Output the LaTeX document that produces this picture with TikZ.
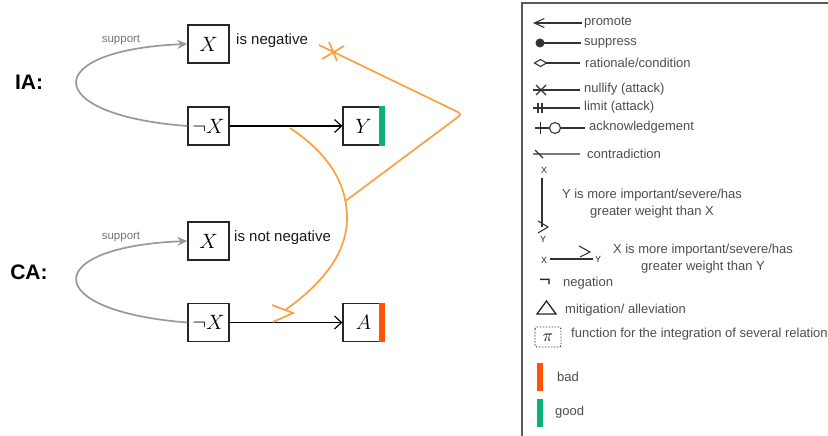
\documentclass[tikz,border=0pt]{standalone}
\usepackage{fontspec}
\setmainfont{Liberation Sans}
\usetikzlibrary{arrows.meta}
\definecolor{orangeln}{HTML}{F9A03F}
\definecolor{badred}{HTML}{FF5308}
\definecolor{goodgreen}{HTML}{0BB07B}
\definecolor{legtext}{HTML}{4D4D4D}
\definecolor{suppgray}{HTML}{999999}
\begin{document}
\begin{tikzpicture}[x=1pt,y=-1pt,
  box/.style={draw=black!85, line width=1.2pt, minimum width=41pt, minimum height=38pt, inner sep=0pt, font=\fontsize{20}{22}\selectfont},
  lbl/.style={anchor=west, inner sep=0pt, font=\fontsize{15}{18}\selectfont, text=black!90},
  supp/.style={draw=suppgray, line width=1.7pt, -{Stealth[length=10pt,width=9pt]}},
  supplbl/.style={inner sep=0pt, font=\fontsize{11.5}{13}\selectfont, text=black!55},
  rel/.style={draw=black, line width=1.2pt, -{Straight Barb[length=7pt,width=13pt]}},
  orl/.style={draw=orangeln, line width=1.7pt},
  title/.style={inner sep=0pt, font=\bfseries\fontsize{21}{24}\selectfont},
  leg/.style={draw=black!80, line width=1.1pt},
  legt/.style={anchor=west, font=\fontsize{13}{17}\selectfont, text=legtext, inner sep=0pt},
  legc/.style={align=center, font=\fontsize{13}{17}\selectfont, text=legtext, inner sep=0pt},
  xy/.style={font=\fontsize{9}{10}\selectfont, inner sep=0pt, text=black!85}
]
\useasboundingbox (0,0) rectangle (828,436);

% ---------------- IA ----------------
\node[title] (ia) at (29,82) {IA:};
\node[box] (x1) at (208.5,44) {$X$};
\node[lbl] (neg1) at (236,41) {is negative};
\node[box] (nx1) at (208.5,126) {$\neg X$};
\node[box] (y1) at (363.5,126) {$Y$};
\fill[goodgreen] ([xshift=-6pt]y1.north east) rectangle (y1.south east);
\draw[rel] (nx1) -- (y1);
\draw[supp] (nx1.west) .. controls (40,115) and (40,50) .. (x1.west);
\node[supplbl] (s1) at (121,40) {support};

% ---------------- CA ----------------
\node[title] (ca) at (29,272) {CA:};
\node[box] (x2) at (208.5,241) {$X$};
\node[lbl] (neg2) at (234,238) {is not negative};
\node[box] (nx2) at (208.5,322.5) {$\neg X$};
\node[box] (a2) at (363.5,322.5) {$A$};
\fill[badred] ([xshift=-6pt]a2.north east) rectangle (a2.south east);
\draw[rel] (nx2) -- (a2);
\draw[supp] (nx2.west) .. controls (40,311) and (40,247) .. (x2.west);
\node[supplbl] (s2) at (121,237) {support};

% ---------------- orange relations ----------------
\coordinate (k1) at (319,45);
\coordinate (bend) at (462,114);
\coordinate (jn) at (345.5,201);
\coordinate (cs) at (290,128);
\coordinate (ce) at (286,309.5);
\draw[orl, rounded corners=4pt] (k1) -- (bend) -- (jn);
\draw[orl] (329,42) -- (337,61) (322,59) -- (344,46);
\draw[orl] (cs) .. controls (335,158) and (347,190) .. (347,218) .. controls (347,255) and (320,285) .. (ce);
\draw[orl] (272,305) -- (293,313) -- (273,322);

% ---------------- legend ----------------
\draw[leg, draw=black!65] (828,3) -- (522,3) -- (522,436);

\draw[leg, {Straight Barb[length=10pt,width=9pt]}-] (533,23) -- (582,23);
\node[legt] (l1) at (584,23) {promote};

\draw[leg] (540,43) -- (581,43);
\fill[black!80] (540,43) circle (4.5);
\node[legt] (l2) at (584,43) {suppress};

\draw[leg] (546,63) -- (580,63);
\draw[leg, fill=white] (534.5,63) -- (540.5,59.5) -- (546.5,63) -- (540.5,66.5) -- cycle;
\node[legt] (l3) at (585,63) {rationale/condition};

\draw[leg] (533,90) -- (580,90);
\draw[leg] (536,85) -- (546,95) (536,95) -- (546,85);
\node[legt] (l4) at (584,89) {nullify (attack)};

\draw[leg] (533,108) -- (580,108);
\draw[leg] (538,103) -- (538,113) (542,103) -- (542,113);
\node[legt] (l5) at (584,107) {limit (attack)};

\draw[leg] (535,128) -- (549.5,128) (560.5,128) -- (585,128);
\draw[leg] (540.5,122) -- (540.5,134);
\draw[leg] (555,128) circle (5.5);
\node[legt] (l6) at (589,127) {acknowledgement};

\draw[leg] (533,154) -- (580,154) (535,150) -- (543,158);
\node[legt] (l7) at (587,154) {contradiction};

\node[xy] (lx1) at (544,170) {X};
\draw[leg] (542,178) -- (542,227);
\draw[leg] (538,221) -- (548,227) -- (538,233);
\node[xy] (ly1) at (543,239) {Y};
\node[legc] (l8) at (652,203.5) {Y is more important/severe/has\\greater weight than X};

\node[xy] (lx2) at (544,260) {X};
\draw[leg] (550,259) -- (593,259);
\draw[leg] (579,246) -- (590,252) -- (580,257);
\node[xy] (ly2) at (598,259) {Y};
\node[legc] (l9) at (703,258.5) {X is more important/severe/has\\greater weight than Y};

\node[inner sep=0pt, font=\fontsize{20}{20}\selectfont, text=black!85] (lneg) at (545,283) {¬};
\node[legt] (l10) at (563,283) {negation};

\draw[black!85, line width=1.3pt, line join=miter] (537,314) -- (546.5,301) -- (556,314) -- cycle;
\node[legt] (l11) at (565,310) {mitigation/ alleviation};

\draw[black!80, line width=0.9pt, dash pattern=on 1.5pt off 1.5pt, rounded corners=2pt] (535,327) rectangle (561,347);
\node[inner sep=0pt, font=\fontsize{16}{16}\selectfont] (lpi) at (548,337.5) {$\pi$};
\node[legt] (l12) at (571,334) {function for the integration of several relation};

\fill[badred] (537,363) rectangle (543,391);
\node[legt] (l13) at (557,377) {bad};
\fill[goodgreen] (537,399) rectangle (543,427);
\node[legt] (l14) at (555,412) {good};
\end{tikzpicture}
\end{document}
